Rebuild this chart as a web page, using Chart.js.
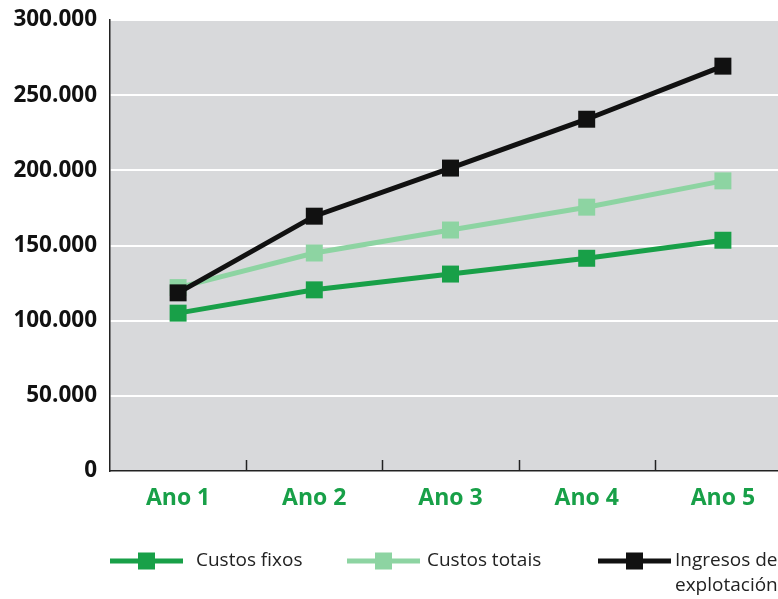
<!DOCTYPE html>
<html>
<head>
<meta charset="utf-8">
<script src="https://cdn.jsdelivr.net/npm/chart.js@4/dist/chart.umd.min.js"></script>
<style>
  html, body { margin: 0; padding: 0; background: #fff; overflow: hidden; }
  #wrap { width: 803px; height: 599px; }
</style>
</head>
<body>
<div id="wrap"><canvas id="c" width="803" height="599"></canvas></div>
<script>
const categories = ["Ano 1", "Ano 2", "Ano 3", "Ano 4", "Ano 5"];
const custosFixos = [105000, 120500, 131000, 141500, 153500];
const custosTotais = [122000, 145000, 160300, 175500, 193000];
const ingresos = [118500, 169500, 201500, 234000, 269300];
const seriesNames = [["Custos fixos"], ["Custos totais"], ["Ingresos de", "explotación"]];
const yTicks = [0, 50000, 100000, 150000, 200000, 250000, 300000];

const GREEN = "#18a048";
const LIGHT = "#8dd4a2";
const BLACK = "#111111";

function fmt(v) {
  return String(v).replace(/\B(?=(\d{3})+(?!\d))/g, ".");
}

const plotBg = {
  id: "plotBg",
  beforeDraw(chart) {
    const { ctx, chartArea: a } = chart;
    ctx.save();
    ctx.fillStyle = "#d8d9db";
    ctx.fillRect(a.left, a.top, a.right - a.left, a.bottom - a.top);
    ctx.restore();
  }
};

// small tick marks pointing up from the x axis between categories
const innerTicks = {
  id: "innerTicks",
  afterDraw(chart) {
    const { ctx, chartArea: a } = chart;
    const x = chart.scales.x;
    ctx.save();
    ctx.strokeStyle = "#222";
    ctx.lineWidth = 1.5;
    for (let i = 0; i < categories.length - 1; i++) {
      const px = Math.round((x.getPixelForValue(i) + x.getPixelForValue(i + 1)) / 2) + 0.5;
      ctx.beginPath();
      ctx.moveTo(px, a.bottom);
      ctx.lineTo(px, a.bottom - 11);
      ctx.stroke();
    }
    ctx.restore();
  }
};

const legendBox = {
  id: "legendBox",
  afterDraw(chart) {
    const { ctx } = chart;
    const starts = [110, 347, 598];
    const textX = [196, 427, 675];
    const y = 561;
    ctx.save();
    [0, 1, 2].forEach(i => {
      const d = chart.data.datasets.find(s => s.idx === i);
      const x0 = starts[i];
      ctx.strokeStyle = d.borderColor;
      ctx.lineWidth = 5;
      ctx.beginPath();
      ctx.moveTo(x0, y);
      ctx.lineTo(x0 + 73, y);
      ctx.stroke();
      ctx.fillStyle = d.borderColor;
      ctx.fillRect(x0 + 28, y - 8.5, 17, 17);
      ctx.fillStyle = "#222";
      ctx.font = "19px 'Open Sans'";
      ctx.textBaseline = "middle";
      seriesNames[i].forEach((line, j) => {
        ctx.fillText(line, textX[i], y + j * 25);
      });
    });
    ctx.restore();
  }
};

function ds(idx, data, color, order) {
  return {
    idx: idx,
    label: seriesNames[idx].join(" "),
    data: data,
    order: order,
    borderColor: color,
    backgroundColor: color,
    borderWidth: 5,
    pointStyle: "rect",
    pointRadius: 12,
    pointHoverRadius: 12,
    pointBorderWidth: 0,
    pointBackgroundColor: color,
    tension: 0,
    fill: false
  };
}

new Chart(document.getElementById("c"), {
  type: "line",
  data: {
    labels: categories,
    datasets: [
      ds(0, custosFixos, GREEN, 1),
      ds(1, custosTotais, LIGHT, 2),
      ds(2, ingresos, BLACK, 0)
    ]
  },
  options: {
    responsive: false,
    animation: false,
    layout: { padding: { top: 20, right: 0, bottom: 70, left: 0 } },
    plugins: { legend: { display: false }, tooltip: { enabled: false } },
    scales: {
      x: {
        offset: true,
        grid: { display: false, drawTicks: false },
        border: { display: true, color: "#222", width: 1.5 },
        ticks: {
          color: GREEN,
          font: { family: "'Open Sans'", size: 23, weight: "bold" },
          padding: 14
        },
        afterFit(s) { s.height = 58; s.paddingLeft = 0; s.paddingRight = 0; }
      },
      y: {
        min: 0,
        max: 300000,
        afterBuildTicks(s) { s.ticks = yTicks.map(v => ({ value: v })); },
        grid: { color: "#ffffff", lineWidth: 2, drawTicks: false },
        border: { display: true, color: "#222", width: 1.5 },
        ticks: {
          color: "#111",
          font: { family: "'Open Sans'", size: 22.5, weight: "bold" },
          padding: 13,
          callback: v => fmt(v)
        },
        afterFit(s) { s.width = 110; s.paddingTop = 0; s.paddingBottom = 0; }
      }
    }
  },
  plugins: [plotBg, innerTicks, legendBox]
});
</script>
</body>
</html>
